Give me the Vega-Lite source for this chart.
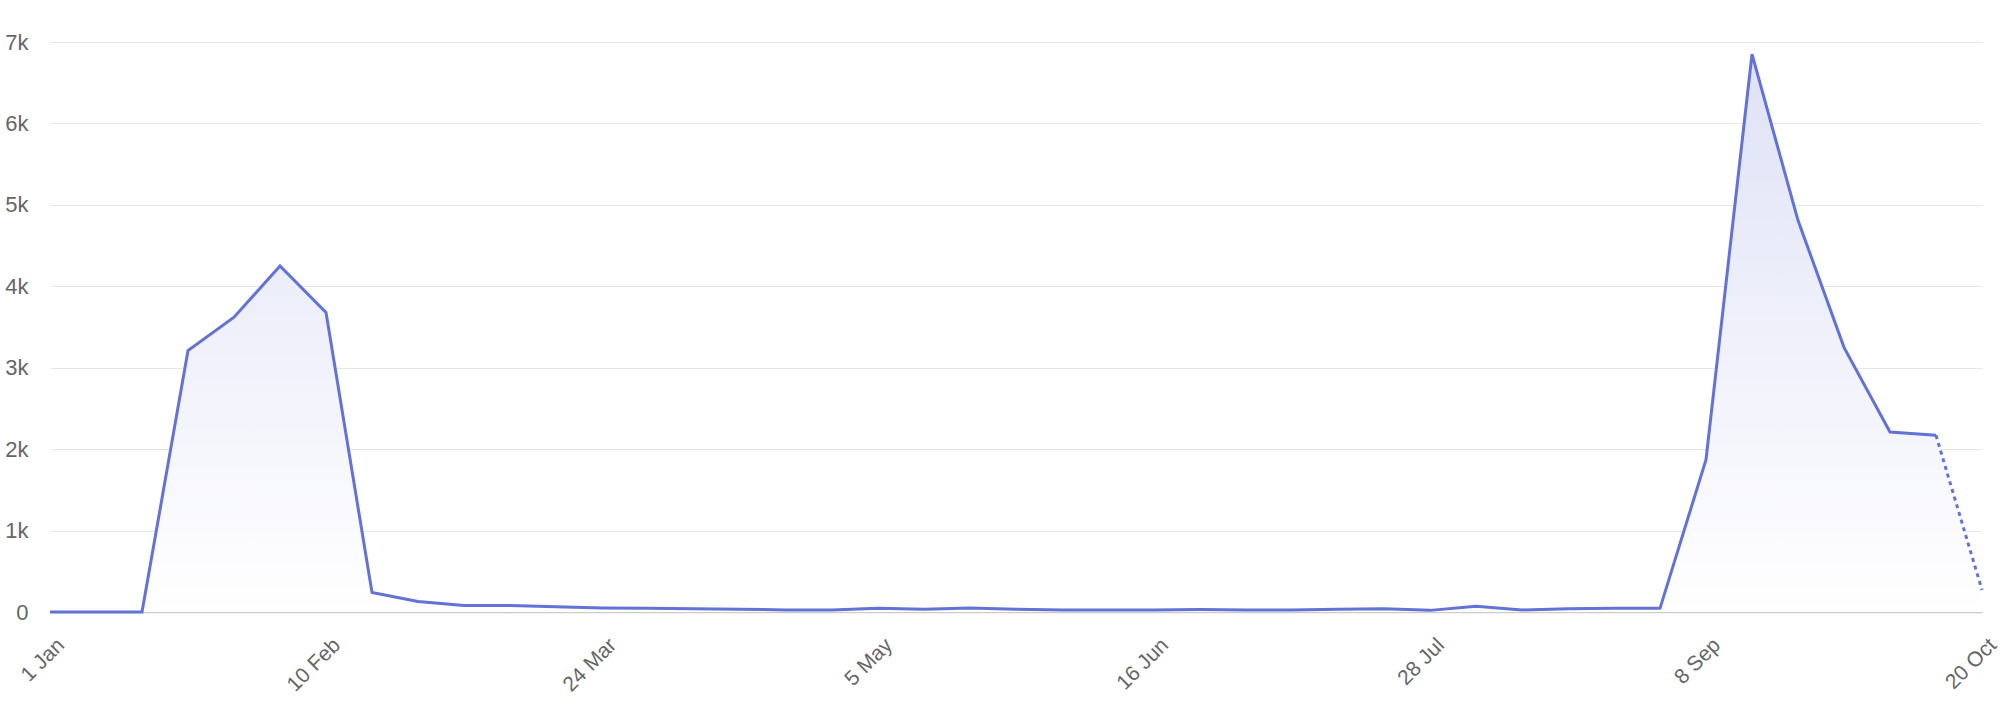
{
  "$schema": "https://vega.github.io/schema/vega-lite/v6.json",
  "width": 1950,
  "height": 570,
  "autosize": {"type": "none"},
  "padding": {"left": 34, "top": 42, "right": 16, "bottom": 96},
  "background": "#ffffff",
  "config": {
    "view": {"stroke": null},
    "font": "Liberation Sans"
  },
  "data": {
    "values": [
      {"week": "2019-01-01", "value": 0},
      {"week": "2019-01-06", "value": 0},
      {"week": "2019-01-13", "value": 0},
      {"week": "2019-01-20", "value": 3210},
      {"week": "2019-01-27", "value": 3620},
      {"week": "2019-02-03", "value": 4250},
      {"week": "2019-02-10", "value": 3680},
      {"week": "2019-02-17", "value": 240},
      {"week": "2019-02-24", "value": 130},
      {"week": "2019-03-03", "value": 80},
      {"week": "2019-03-10", "value": 80},
      {"week": "2019-03-17", "value": 65},
      {"week": "2019-03-24", "value": 50},
      {"week": "2019-03-31", "value": 45},
      {"week": "2019-04-07", "value": 40},
      {"week": "2019-04-14", "value": 35},
      {"week": "2019-04-21", "value": 25},
      {"week": "2019-04-28", "value": 25},
      {"week": "2019-05-05", "value": 45},
      {"week": "2019-05-12", "value": 35},
      {"week": "2019-05-19", "value": 50},
      {"week": "2019-05-26", "value": 35},
      {"week": "2019-06-02", "value": 25},
      {"week": "2019-06-09", "value": 25},
      {"week": "2019-06-16", "value": 25},
      {"week": "2019-06-23", "value": 30},
      {"week": "2019-06-30", "value": 25},
      {"week": "2019-07-07", "value": 25},
      {"week": "2019-07-14", "value": 35},
      {"week": "2019-07-21", "value": 40},
      {"week": "2019-07-28", "value": 20},
      {"week": "2019-08-04", "value": 70},
      {"week": "2019-08-11", "value": 25},
      {"week": "2019-08-18", "value": 40},
      {"week": "2019-08-25", "value": 45},
      {"week": "2019-09-01", "value": 45},
      {"week": "2019-09-08", "value": 1870},
      {"week": "2019-09-15", "value": 6850},
      {"week": "2019-09-22", "value": 4810},
      {"week": "2019-09-29", "value": 3250},
      {"week": "2019-10-06", "value": 2210},
      {"week": "2019-10-13", "value": 2170},
      {"week": "2019-10-20", "value": 270}
    ]
  },
  "encoding": {
    "x": {
      "field": "week",
      "type": "ordinal",
      "sort": null,
      "scale": {"type": "point", "range": [16, 1948], "padding": 0},
      "title": null,
      "axis": {
        "values": ["2019-01-01", "2019-02-10", "2019-03-24", "2019-05-05", "2019-06-16", "2019-07-28", "2019-09-08", "2019-10-20"],
        "labelExpr": "utcFormat(toDate(datum.value), '%-d %b')",
        "labelAngle": -45,
        "labelAlign": "right",
        "labelBaseline": "top",
        "labelFontSize": 21,
        "labelColor": "#666666",
        "labelPadding": 22,
        "labelOffset": 3,
        "labelBound": false,
        "labelOverlap": false,
        "ticks": false,
        "grid": false,
        "domainColor": "#cccccc",
        "domainWidth": 1.5
      }
    },
    "y": {
      "field": "value",
      "type": "quantitative",
      "title": null,
      "scale": {"domain": [0, 7000], "nice": false},
      "axis": {
        "values": [0, 1000, 2000, 3000, 4000, 5000, 6000, 7000],
        "labelExpr": "datum.value == 0 ? '0' : datum.value / 1000 + 'k'",
        "labelFontSize": 22,
        "labelColor": "#666666",
        "labelPadding": 6,
        "ticks": false,
        "domain": false,
        "gridColor": "#e6e6e6",
        "gridWidth": 1.2
      }
    }
  },
  "layer": [
    {
      "mark": {
        "type": "area",
        "interpolate": "linear",
        "color": {
          "gradient": "linear",
          "x1": 0, "y1": 0, "x2": 0, "y2": 1,
          "stops": [
            {"offset": 0, "color": "#dfe2f6"},
            {"offset": 1, "color": "#ffffff"}
          ]
        }
      }
    },
    {
      "transform": [{"filter": "datum.week <= '2019-10-13'"}],
      "mark": {"type": "line", "color": "#6272d6", "strokeWidth": 3}
    },
    {
      "transform": [{"filter": "datum.week >= '2019-10-13'"}],
      "mark": {"type": "line", "color": "#6272d6", "strokeWidth": 3, "strokeDash": [4, 4]}
    }
  ]
}
